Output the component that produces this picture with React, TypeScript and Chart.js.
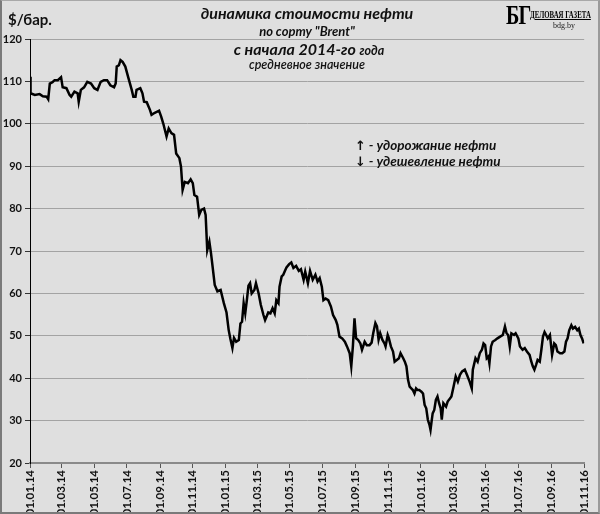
import React, { useEffect, useRef } from "react";
import { Chart, registerables } from "chart.js";

Chart.register(...registerables);

// Days since 01.01.2014 for each sampled point
const dayOffsets = [
  0, 1, 9, 18, 24, 31, 34, 37, 42, 46, 52, 58, 61, 68, 74, 77, 83, 89, 91, 95,
  101, 107, 114, 120, 126, 132, 138, 144, 150, 157, 160, 162, 166, 169, 173, 178, 184, 190, 193, 197,
  199, 206, 210, 213, 218, 224, 227, 233, 241, 245, 249, 255, 259, 264, 269, 273, 279, 282, 285, 289,
  295, 300, 304, 307, 312, 316, 320, 325, 328, 331, 335, 338, 341, 345, 350, 356, 362, 367, 371, 374,
  378, 381, 385, 390, 393, 396, 399, 402, 405, 408, 411, 414, 419, 422, 427, 431, 436, 439, 445, 449,
  453, 457, 460, 464, 466, 470, 473, 476, 479, 484, 488, 492, 497, 502, 506, 511, 514, 519, 523, 528,
  533, 537, 541, 545, 548, 552, 557, 562, 566, 571, 574, 578, 583, 588, 592, 597, 600, 603, 606, 609,
  613, 617, 620, 625, 629, 634, 638, 641, 645, 648, 651, 654, 658, 662, 664, 668, 670, 674, 678, 681,
  685, 689, 692, 697, 700, 703, 706, 709, 712, 715, 718, 721, 724, 727, 731, 734, 737, 740, 743, 746,
  748, 750, 752, 755, 758, 761, 764, 767, 769, 772, 777, 780, 785, 787, 791, 795, 799, 803, 807, 812,
  816, 821, 825, 827, 832, 836, 840, 844, 847, 850, 853, 856, 858, 861, 864, 869, 873, 878, 883, 887,
  890, 893, 896, 899, 904, 907, 912, 915, 920, 924, 928, 933, 936, 939, 942, 945, 948, 952, 955, 958,
  961, 964, 967, 971, 975, 979, 982, 985, 990, 994, 998, 1001, 1004, 1007, 1011, 1014, 1018, 1022, 1025, 1028,
  1031, 1034,
];

// Brent price, $/barrel
const brentPrices = [
  111.1, 107.2, 106.8, 107.0, 106.5, 106.4, 105.8, 109.5, 109.8, 110.3, 110.3, 111.0, 108.6, 108.4, 106.8, 106.4, 107.6, 107.2, 105.2, 108.0,
  108.6, 109.9, 109.5, 108.4, 108.0, 109.9, 110.3, 110.3, 109.1, 108.6, 109.5, 113.5, 113.8, 115.0, 114.6, 113.5, 110.7, 108.0, 106.4, 106.4,
  108.0, 108.4, 107.2, 105.2, 105.1, 103.3, 102.1, 102.6, 103.1, 101.7, 100.0, 97.0, 98.9, 97.8, 97.4, 93.0, 91.9, 89.9, 84.4, 86.3,
  86.0, 86.9, 86.0, 83.2, 82.8, 78.5, 79.7, 80.0, 78.5, 70.2, 72.2, 69.5, 66.3, 62.0, 60.5, 60.8, 57.7, 55.5, 51.4, 49.4,
  47.1, 49.5, 48.6, 49.0, 52.9, 53.3, 57.7, 55.3, 58.4, 61.8, 62.4, 60.0, 60.8, 62.4, 60.0, 57.3, 54.9, 53.7, 55.5, 55.3,
  56.5, 55.3, 58.4, 57.7, 61.6, 64.0, 64.4, 65.3, 66.1, 66.9, 67.3, 66.0, 66.5, 65.3, 65.7, 63.2, 65.1, 62.4, 65.3, 63.2,
  64.4, 62.8, 63.6, 61.6, 58.4, 58.8, 58.4, 56.9, 54.9, 53.7, 52.6, 49.8, 49.4, 48.6, 47.5, 45.9, 42.8, 47.5, 54.1, 49.4,
  49.0, 48.2, 46.7, 48.6, 47.8, 47.8, 48.4, 50.6, 53.0, 52.2, 49.1, 50.6, 49.1, 48.2, 47.5, 50.2, 49.5, 47.5, 46.3, 43.9,
  44.3, 44.7, 45.9, 44.7, 43.9, 42.8, 39.6, 38.0, 37.6, 37.2, 36.4, 37.6, 37.2, 37.2, 36.8, 36.4, 33.7, 32.9, 30.2, 29.0,
  27.8, 29.8, 31.7, 32.5, 34.9, 35.7, 34.1, 32.9, 30.2, 34.1, 33.3, 34.5, 35.3, 35.7, 38.0, 40.4, 39.2, 40.8, 41.6, 42.0,
  40.8, 39.2, 37.6, 42.0, 44.7, 43.9, 45.9, 46.7, 48.2, 47.8, 44.7, 45.1, 43.5, 47.5, 48.6, 49.0, 49.4, 49.8, 50.2, 52.2,
  50.6, 50.2, 47.5, 50.6, 50.2, 50.6, 49.4, 47.5, 46.7, 47.1, 46.3, 45.5, 44.0, 42.8, 42.0, 43.1, 44.3, 43.9, 46.7, 49.8,
  50.9, 50.2, 49.4, 50.2, 45.5, 48.2, 47.8, 46.3, 45.9, 45.9, 46.3, 48.6, 49.4, 51.3, 52.5, 51.7, 52.1, 51.3, 51.7, 50.2,
  49.4, 48.2,
];

const xTickLabels = [
  "01.01.14", "01.03.14", "01.05.14", "01.07.14", "01.09.14", "01.11.14",
  "01.01.15", "01.03.15", "01.05.15", "01.07.15", "01.09.15", "01.11.15",
  "01.01.16", "01.03.16", "01.05.16", "01.07.16", "01.09.16", "01.11.16",
];

const yMin = 20;
const yMax = 120;
const yStep = 10;

const START = Date.UTC(2014, 0, 1);
const dayOf = (s: string) => {
  const [d, m, y] = s.split(".").map(Number);
  return Math.round((Date.UTC(2000 + y, m - 1, d) - START) / 86400000);
};

const FONT = "Lato, 'Open Sans', sans-serif";

export default function App() {
  const ref = useRef<HTMLCanvasElement | null>(null);

  useEffect(() => {
    document.body.style.margin = "0";
    const tickDays = xTickLabels.map(dayOf);
    const labelMap: Record<number, string> = {};
    tickDays.forEach((d, i) => (labelMap[d] = xTickLabels[i]));
    const points = dayOffsets.map((d, i) => ({ x: d, y: brentPrices[i] }));

    const chart = new Chart(ref.current!, {
      type: "line",
      data: {
        datasets: [
          {
            data: points,
            borderColor: "#000000",
            borderWidth: 2.5,
            pointRadius: 0,
            tension: 0,
            fill: false,
          },
        ],
      },
      options: {
        animation: false,
        responsive: false,
        devicePixelRatio: 1,
        layout: { padding: { top: 39, right: 8, left: 0, bottom: 0 } },
        plugins: { legend: { display: false }, tooltip: { enabled: false } },
        scales: {
          x: {
            type: "linear",
            min: tickDays[0],
            max: tickDays[tickDays.length - 1],
            afterBuildTicks: (s: any) => {
              s.ticks = tickDays.map((v) => ({ value: v }));
            },
            afterFit: (s: any) => {
              s.height = 51;
            },
            ticks: {
              autoSkip: false,
              minRotation: 90,
              maxRotation: 90,
              padding: 2,
              color: "#111111",
              font: { family: FONT, weight: "bold", size: 11.5 },
              callback: (v: any) => labelMap[v as number] ?? "",
            },
            grid: {
              drawOnChartArea: false,
              drawTicks: true,
              tickLength: 5,
              color: "#555555",
            },
            border: { color: "#8a8a8a", width: 2 },
          },
          y: {
            min: yMin,
            max: yMax,
            afterFit: (s: any) => {
              s.width = 30;
            },
            ticks: {
              stepSize: yStep,
              padding: 3,
              color: "#111111",
              font: { family: FONT, weight: "bold", size: 11 },
            },
            grid: {
              color: "#a3a3a3",
              lineWidth: 1,
              tickLength: 5,
              tickColor: "#333333",
            },
            border: { color: "#000000", width: 1 },
          },
        },
      },
    });
    return () => chart.destroy();
  }, []);

  const abs = (s: React.CSSProperties): React.CSSProperties => ({
    position: "absolute",
    whiteSpace: "nowrap",
    lineHeight: 1,
    color: "#111",
    ...s,
  });

  return (
    <div
      style={{
        position: "relative",
        width: 600,
        height: 514,
        background: "#dfdfdf",
        fontFamily: FONT,
        overflow: "hidden",
      }}
    >
      <canvas ref={ref} width={600} height={514} style={{ display: "block" }} />
      <div
        style={{
          position: "absolute",
          left: 0,
          top: 0,
          width: 600,
          height: 514,
          boxSizing: "border-box",
          borderTop: "1px solid #a8a8a8",
          borderLeft: "2px solid #7a7a7a",
          borderRight: "2px solid #9a9a9a",
          borderBottom: "2px solid #7a7a7a",
          pointerEvents: "none",
        }}
      />
      <div style={abs({ left: 8, top: 12, fontSize: 15, fontWeight: 700 })}>$/бар.</div>
      <div
        style={abs({
          left: 307,
          top: 5,
          transform: "translateX(-50%)",
          fontSize: 16,
          fontWeight: 700,
          fontStyle: "italic",
        })}
      >
        динамика стоимости нефти
      </div>
      <div
        style={abs({
          left: 307,
          top: 25,
          transform: "translateX(-50%)",
          fontSize: 13,
          fontWeight: 700,
          fontStyle: "italic",
        })}
      >
        по сорту "Brent"
      </div>
      <div
        style={abs({
          left: 309,
          top: 41,
          transform: "translateX(-50%)",
          fontSize: 16,
          fontWeight: 700,
          fontStyle: "italic",
        })}
      >
        с начала 2014-го <span style={{ fontSize: 12.5 }}>года</span>
      </div>
      <div
        style={abs({
          left: 307,
          top: 59,
          transform: "translateX(-50%)",
          fontSize: 12.5,
          fontWeight: 600,
          fontStyle: "italic",
        })}
      >
        средневное значение
      </div>
      <div style={abs({ left: 355, top: 139, fontSize: 13.5, fontWeight: 700, fontStyle: "italic" })}>
        <span style={{ fontStyle: "normal", fontFamily: "'DejaVu Sans', sans-serif", fontSize: 13 }}>↑</span> - удорожание нефти
      </div>
      <div style={abs({ left: 355, top: 155, fontSize: 13.5, fontWeight: 700, fontStyle: "italic" })}>
        <span style={{ fontStyle: "normal", fontFamily: "'DejaVu Sans', sans-serif", fontSize: 13 }}>↓</span> - удешевление нефти
      </div>
      <div
        style={abs({
          left: 506,
          top: 1,
          fontFamily: "'Liberation Serif', 'DejaVu Serif', serif",
          fontSize: 28,
          fontWeight: 700,
          color: "#000",
          transform: "scaleX(0.72)",
          transformOrigin: "left top",
          letterSpacing: -1,
        })}
      >
        БГ
      </div>
      <div
        style={abs({
          left: 530,
          top: 9,
          fontFamily: "'Liberation Serif', 'DejaVu Serif', serif",
          fontSize: 11,
          fontWeight: 700,
          color: "#000",
          transform: "scaleX(0.62)",
          transformOrigin: "left top",
          textDecoration: "underline",
        })}
      >
        ДЕЛОВАЯ ГАЗЕТА
      </div>
      <div
        style={abs({
          left: 553,
          top: 22,
          fontFamily: "'Liberation Serif', 'DejaVu Serif', serif",
          fontSize: 8,
          color: "#222",
        })}
      >
        bdg.by
      </div>
    </div>
  );
}
